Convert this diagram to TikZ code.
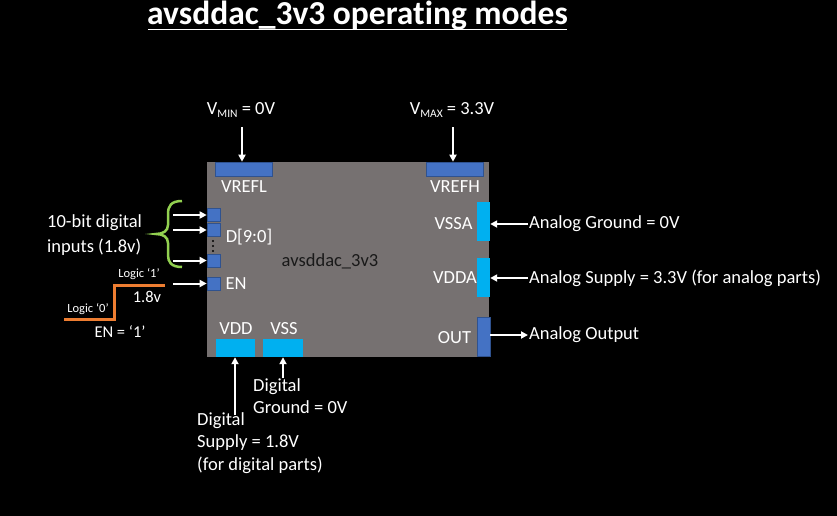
\documentclass[tikz,border=0pt]{standalone}
\usepackage{fontspec}
\setmainfont{Carlito}[Ligatures={NoCommon}]
\usetikzlibrary{arrows.meta}
\definecolor{chipgray}{RGB}{118,113,113}
\definecolor{pinblue}{RGB}{68,114,196}
\definecolor{pinedge}{RGB}{47,82,143}
\definecolor{pincyan}{RGB}{0,176,240}
\definecolor{bracegreen}{RGB}{146,208,80}
\definecolor{stepor}{RGB}{237,125,49}
\begin{document}
\begin{tikzpicture}[x=1pt,y=-1pt,
 lbl/.style={text=white,font=\fontsize{18.5}{22}\selectfont,inner sep=1pt},
 pinlbl/.style={text=white,font=\fontsize{18.5}{22}\selectfont,inner sep=0pt},
 bpin/.style={fill=pinblue,draw=pinedge,line width=0.6pt,inner sep=0pt},
 cpin/.style={fill=pincyan,draw=none,inner sep=0pt},
 arr/.style={draw=white,line width=2pt,-{Triangle[length=7pt,width=7pt]}},
 smalltxt/.style={text=white,font=\fontsize{12.5}{14}\selectfont,inner sep=0pt}]
\fill[black] (0,0) rectangle (837,516);
\useasboundingbox (0,0) rectangle (837,516);
\node[text=white,font=\bfseries\fontsize{33.5}{36}\selectfont,inner sep=0pt] (title) at (357.5,16) {avsddac\_3v3 operating modes};
\coordinate (ulA) at (148,29.5);
\coordinate (ulB) at (567,29.5);
\draw[white,line width=1.3pt] (ulA) -- (ulB);
% chip
\node[fill=chipgray,minimum width=282pt,minimum height=195pt,inner sep=0pt] (chip) at (348,259.5) {};
\node[text=black!90,font=\fontsize{18.5}{22}\selectfont,inner sep=0pt] (chipname) at (330,261) {avsddac\_3v3};
% top pins
\node[bpin,minimum width=57pt,minimum height=14pt] (vrefl) at (243.5,169) {};
\node[bpin,minimum width=57pt,minimum height=14pt] (vrefh) at (454.5,169) {};
\node[pinlbl] (vrefllbl) at (244,187) {VREFL};
\node[pinlbl] (vrefhlbl) at (455,187) {VREFH};
\node[lbl] (vmin) at (241,110) {V\raisebox{-0.4ex}{\fontsize{11.5}{11.5}\selectfont MIN} = 0V};
\node[lbl] (vmax) at (452,110) {V\raisebox{-0.4ex}{\fontsize{11.5}{11.5}\selectfont MAX} = 3.3V};
\coordinate (vminA) at (242,127);
\coordinate (vmaxA) at (453,127);
\draw[arr] (vminA) -- (vminA |- vrefl.north);
\draw[arr] (vmaxA) -- (vmaxA |- vrefh.north);
% left pins
\node[bpin,minimum width=13pt,minimum height=13pt] (d9) at (213.5,215) {};
\node[bpin,minimum width=13pt,minimum height=13pt] (d8) at (213.5,230) {};
\node[bpin,minimum width=13pt,minimum height=13pt] (d0) at (213.5,260.5) {};
\node[bpin,minimum width=13pt,minimum height=13pt] (en) at (213.5,283.5) {};
\fill[black] (213,241) circle (1.1) (213,246) circle (1.1) (213,251) circle (1.1);
\node[pinlbl] (dlbl) at (249,237) {D[9:0]};
\node[pinlbl] (enlbl) at (236,284) {EN};
\coordinate (d9A) at (173,215);
\coordinate (d8A) at (173,230);
\coordinate (d0A) at (173,260.5);
\coordinate (enA) at (173,283.5);
\draw[arr] (d9A) -- (d9.west);
\draw[arr] (d8A) -- (d8.west);
\draw[arr] (d0A) -- (d0.west);
\draw[arr] (enA) -- (en.west);
\draw[bracegreen,line width=2.5pt] (182,201) .. controls (171,201) and (168,206) .. (168,214) -- (168,225) .. controls (168,231) and (163,234) .. (156,234) .. controls (163,234) and (168,237) .. (168,243) -- (168,255) .. controls (168,262) and (171,267) .. (182,267);
\node[lbl,align=left,anchor=west,font=\fontsize{18.5}{25}\selectfont] (dig) at (46,235) {10-bit digital\\inputs (1.8v)};
% EN waveform
\draw[stepor,line width=3pt] (64,319) -- (114,319) -- (114,285) -- (165,285);
\node[smalltxt] (l1) at (139,274) {Logic ‘1’};
\node[smalltxt] (l0) at (88,309) {Logic ‘0’};
\node[lbl,font=\fontsize{16.5}{18}\selectfont] (v18) at (147,297) {1.8v};
\node[lbl,font=\fontsize{16.5}{18}\selectfont] (eneq) at (120,332) {EN = ‘1’};
% right pins
\node[cpin,minimum width=13pt,minimum height=39pt] (vssa) at (483.5,221.5) {};
\node[cpin,minimum width=13pt,minimum height=39pt] (vdda) at (483.5,277.5) {};
\node[bpin,minimum width=13pt,minimum height=39pt] (out) at (483.5,336.5) {};
\node[pinlbl] (vssalbl) at (453.5,224) {VSSA};
\node[pinlbl] (vddalbl) at (455,278) {VDDA};
\node[pinlbl] (outlbl) at (454.5,338) {OUT};
\node[lbl,anchor=west] (vssaT) at (528,224) {Analog Ground = 0V};
\node[lbl,anchor=west] (vddaT) at (528,278) {Analog Supply = 3.3V (for analog parts)};
\node[lbl,anchor=west] (outT) at (528,335) {Analog Output};
\draw[arr] (vssaT.west) -- (vssa.east |- vssaT.west);
\draw[arr] (vddaT.west) -- (vdda.east |- vddaT.west);
\draw[arr] (out.east |- outT.west) -- (outT.west);
% bottom pins
\node[cpin,minimum width=39pt,minimum height=18pt] (vdd) at (235.5,348) {};
\node[cpin,minimum width=40pt,minimum height=18pt] (vss) at (283,348) {};
\node[pinlbl] (vddlbl) at (236,329) {VDD};
\node[pinlbl] (vsslbl) at (284,329) {VSS};
\coordinate (vddA) at (235,415);
\coordinate (vssA) at (283,378);
\draw[arr] (vddA) -- (vddA |- vdd.south);
\draw[arr] (vssA) -- (vssA |- vss.south);
\node[lbl,align=left,anchor=west,font=\fontsize{18.5}{21.5}\selectfont] (dgnd) at (252,396) {Digital\\Ground = 0V};
\node[lbl,align=left,anchor=west,font=\fontsize{18.5}{22.5}\selectfont] (dsup) at (196,443) {Digital\\Supply = 1.8V\\(for digital parts)};
\end{tikzpicture}
\end{document}
